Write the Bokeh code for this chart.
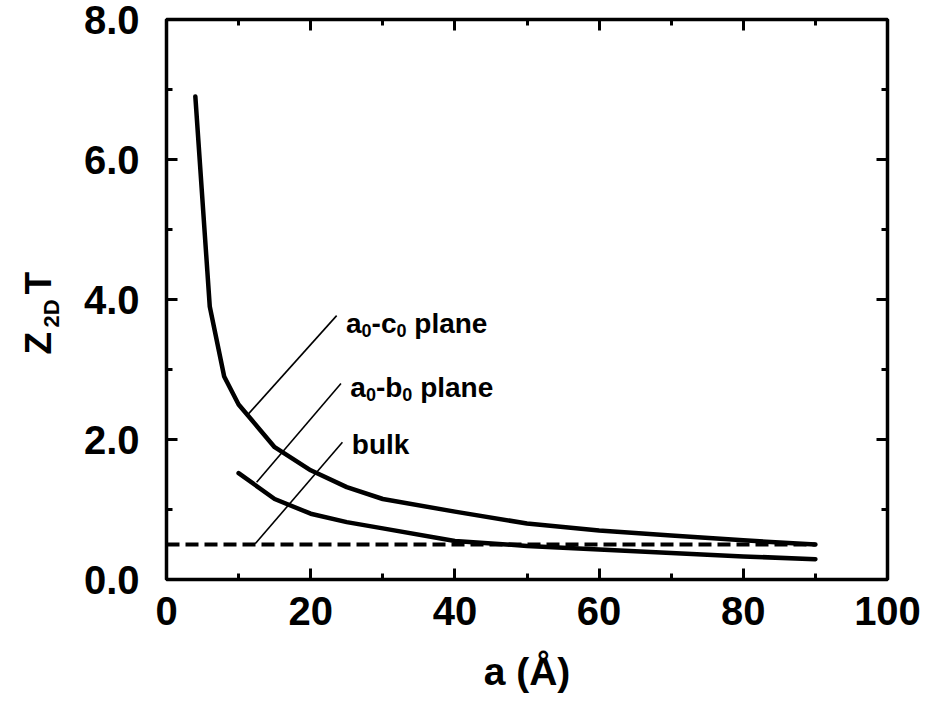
import math
from bokeh.plotting import figure
from bokeh.layouts import row
from bokeh.models import (Range1d, LinearAxis, SingleIntervalTicker, NumeralTickFormatter,
                          CustomJSTickFormatter, Label)
from bokeh.embed import file_html
from bokeh.resources import INLINE

# Well width a (Angstrom) and the figure of merit Z_2D*T for each plane
a_ac = [4, 6, 8, 10, 15, 20, 25, 30, 40, 50, 60, 70, 80, 90]
zt_ac = [6.9, 3.9, 2.9, 2.5, 1.89, 1.56, 1.32, 1.15, 0.97, 0.80, 0.70, 0.63, 0.56, 0.50]

a_ab = [10, 15, 20, 25, 30, 40, 50, 60, 70, 80, 90]
zt_ab = [1.52, 1.15, 0.94, 0.82, 0.73, 0.55, 0.48, 0.43, 0.38, 0.33, 0.29]

# Bulk value, drawn as a dashed reference line
bulk_a = [0, 90]
bulk_zt = [0.5, 0.5]

FONT = "Liberation Sans"
TITLE_W = 70
H = 702
TOP, BOTTOM = 19, 123

p = figure(width=925 - TITLE_W, height=H, output_backend="svg", toolbar_location=None,
           x_range=Range1d(0, 100), y_range=Range1d(0, 8),
           min_border_left=166 - TITLE_W, min_border_right=38,
           min_border_top=TOP, min_border_bottom=BOTTOM)
p.background_fill_color = "white"
p.border_fill_color = "white"
p.xgrid.visible = False
p.ygrid.visible = False
p.outline_line_color = "black"
p.outline_line_width = 3.5
p.outline_line_alpha = 1.0

xticker = SingleIntervalTicker(interval=20, num_minor_ticks=2)
yticker = SingleIntervalTicker(interval=2, num_minor_ticks=2)


def style_axis(ax):
    ax.axis_line_color = None
    ax.major_tick_in = 11
    ax.major_tick_out = 0
    ax.minor_tick_in = 6
    ax.minor_tick_out = 0
    ax.major_tick_line_width = 3
    ax.minor_tick_line_width = 3
    ax.major_tick_line_color = "black"
    ax.minor_tick_line_color = "black"
    ax.major_label_text_font = FONT
    ax.major_label_text_font_style = "bold"
    ax.major_label_text_color = "black"
    ax.major_label_text_font_size = "40px"


xa = p.xaxis[0]
xa.ticker = xticker
style_axis(xa)
xa.major_label_standoff = 17
xa.axis_label = "a (Å)"
xa.axis_label_text_font = FONT
xa.axis_label_text_font_style = "bold"
xa.axis_label_text_font_size = "39px"
xa.axis_label_text_color = "black"
xa.axis_label_standoff = 22

ya = p.yaxis[0]
ya.ticker = yticker
ya.formatter = NumeralTickFormatter(format="0.0")
style_axis(ya)
ya.major_label_standoff = 27

# Mirror axes on the top and right carry ticks only
blank = CustomJSTickFormatter(code="return ''")
top = LinearAxis(ticker=xticker, formatter=blank, major_label_standoff=0)
style_axis(top)
p.add_layout(top, "above")
right = LinearAxis(ticker=yticker, formatter=blank, major_label_standoff=0)
style_axis(right)
p.add_layout(right, "right")

# Curves
p.line(a_ac, zt_ac, line_width=4.5, line_color="black", line_join="round", line_cap="round")
p.line(a_ab, zt_ab, line_width=4.5, line_color="black", line_join="round", line_cap="round")
p.line(bulk_a, bulk_zt, line_width=4, line_color="black", line_dash="13 6")

# Leader lines from the labels to the curves
p.segment(x0=[23.6, 24.2, 24.4], y0=[3.77, 2.80, 1.96],
          x1=[11.4, 12.5, 12.3], y1=[2.37, 1.39, 0.51],
          line_width=1.6, line_color="black")

MAIN = 28
SUB = 18
W = {"a": 0.556, "0": 0.556, "-": 0.333, "c": 0.556, "b": 0.611, " ": 0.278,
     "p": 0.611, "l": 0.278, "n": 0.611, "e": 0.556, "u": 0.611, "k": 0.556}


def rich_label(x, y, pieces):
    off = 0.0
    for txt, sub in pieces:
        size = SUB if sub else MAIN
        word = txt.lstrip(" ")
        off += (len(txt) - len(word)) * W[" "] * size
        p.add_layout(Label(x=x, y=y, x_offset=off, y_offset=-7 if sub else 0,
                           text=word, text_font=FONT, text_font_style="bold",
                           text_font_size=f"{size}px", text_color="black",
                           text_baseline="alphabetic", text_align="left"))
        off += sum(W.get(ch, 0.55) for ch in word) * size


rich_label(24.9, 3.66, [("a", False), ("0", True), ("-c", False), ("0", True), (" plane", False)])
rich_label(25.5, 2.74, [("a", False), ("0", True), ("-b", False), ("0", True), (" plane", False)])
rich_label(25.7, 1.93, [("bulk", False)])

# Narrow strip on the left holding the rotated y title Z_2D T.
# Its frame is aligned with the main frame, so the range is set to page pixels
# measured upward from the bottom of the page.
t = figure(width=TITLE_W, height=H, output_backend="svg", toolbar_location=None,
           x_range=Range1d(0, TITLE_W), y_range=Range1d(BOTTOM, H - TOP),
           x_axis_type=None, y_axis_type=None,
           min_border_left=0, min_border_right=0,
           min_border_top=TOP, min_border_bottom=BOTTOM)
t.outline_line_color = None
t.xgrid.visible = False
t.ygrid.visible = False
t.background_fill_color = "white"
t.border_fill_color = "white"
for txt, size, sx, sy in [("Z", 37, 38, 354), ("2D", 22, 51, 327), ("T", 37, 38, 294)]:
    t.add_layout(Label(x=sx, y=H - sy, angle=math.pi / 2,
                       text=txt, text_font=FONT, text_font_style="bold",
                       text_font_size=f"{size}px", text_color="black",
                       text_baseline="alphabetic", text_align="left"))

layout = row(t, p, spacing=0)
open("out.html", "w").write(file_html(layout, INLINE))
